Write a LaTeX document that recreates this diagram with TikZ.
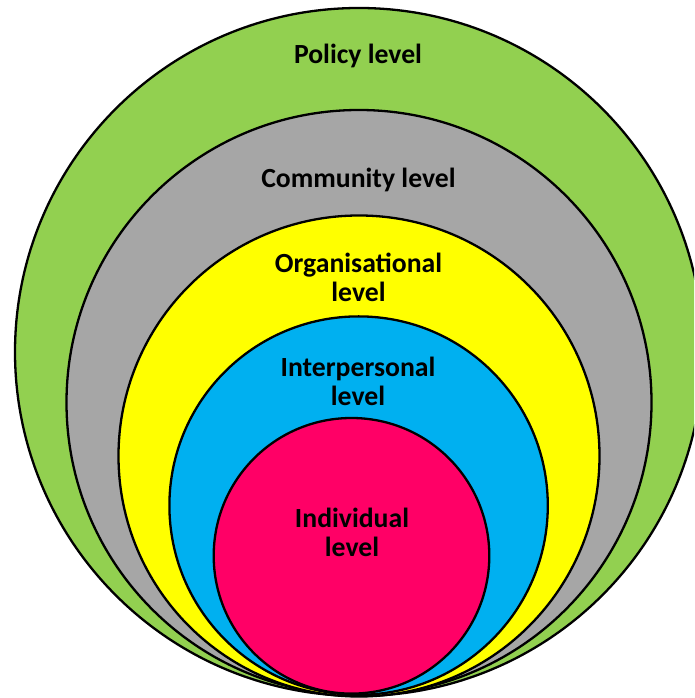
\documentclass[tikz,border=0pt]{standalone}
\usepackage{fontspec}
\setmainfont{Carlito}
\definecolor{policygreen}{HTML}{92D050}
\definecolor{communitygrey}{HTML}{A6A6A6}
\definecolor{orgyellow}{HTML}{FFFF00}
\definecolor{interblue}{HTML}{00B0F0}
\definecolor{indivpink}{HTML}{FF0066}
\begin{document}
\begin{tikzpicture}[x=1pt,y=1pt,
  ring/.style={draw=black,line width=2.3pt},
  lvl/.style={font=\fontsize{27.7}{29}\selectfont\bfseries,align=center,inner sep=0pt,anchor=base}]
\useasboundingbox (0,0) rectangle (694,698);
\clip (0,0) rectangle (694,698);
% nested levels, all touching near the bottom
\draw[ring,fill=policygreen]   (359,346) circle (344);
\draw[ring,fill=communitygrey] (359,295.5) circle (292.5);
\draw[ring,fill=orgyellow]     (359,242) circle (240.5);
\draw[ring,fill=interblue]     (358.6,192.4) circle (189.2);
\draw[ring,fill=indivpink]     (351.5,142.2) circle (137.8);
% labels (base anchor sits on the last line)
\node[lvl] (policy)    at (358,634) {Policy level};
\node[lvl] (community) at (358.5,510) {Community level};
\node[lvl] (org)       at (358.5,396) {Organisational\\level};
\node[lvl] (inter)     at (358,292) {Interpersonal\\level};
\node[lvl] (indiv)     at (352,141) {Individual\\level};
\end{tikzpicture}
\end{document}
